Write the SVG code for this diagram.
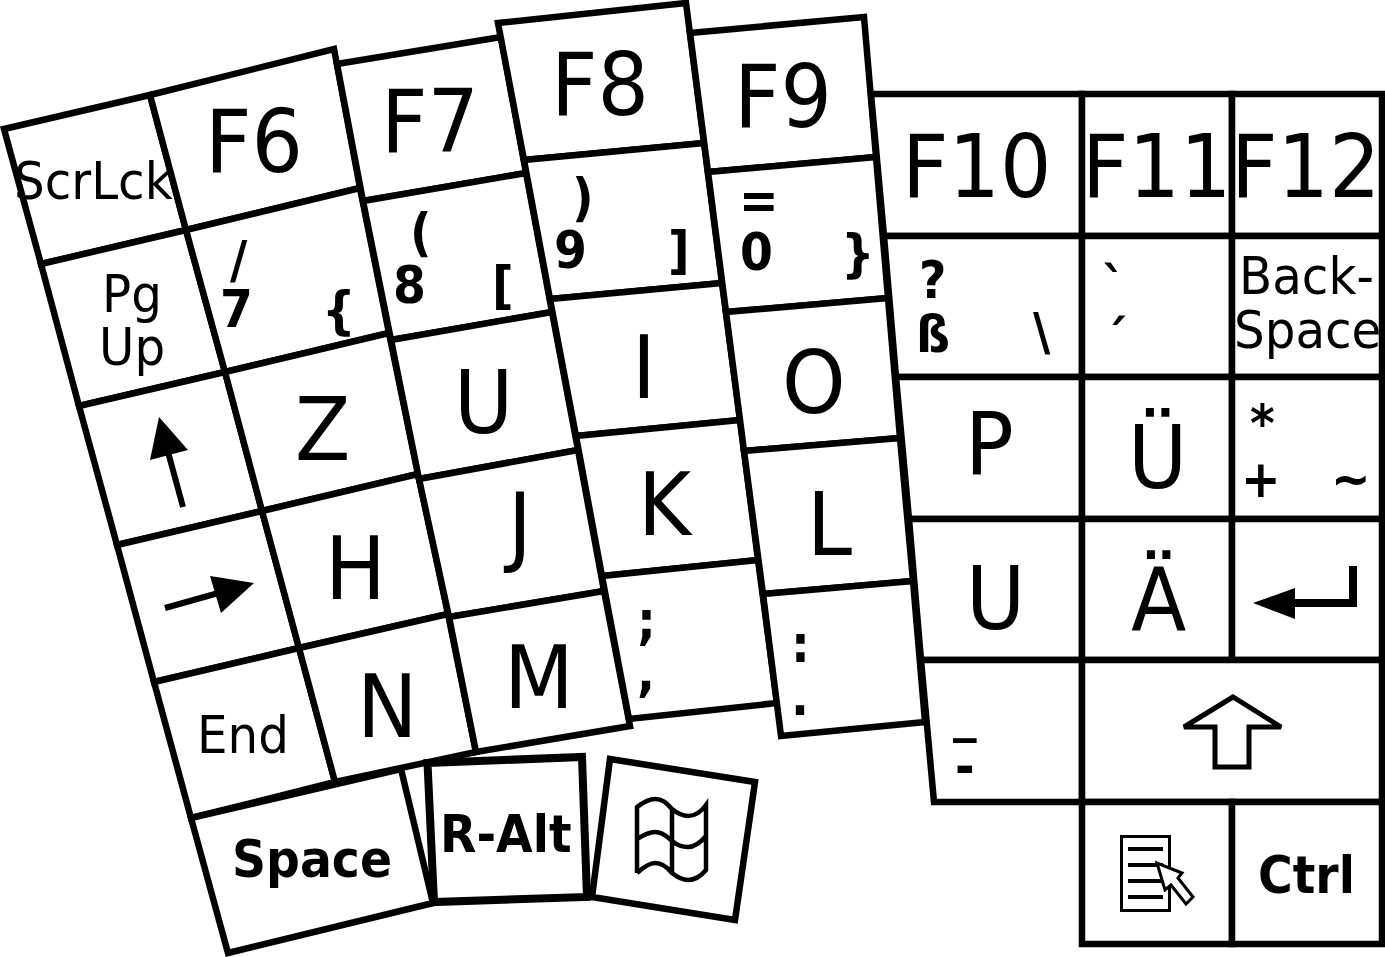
<svg xmlns="http://www.w3.org/2000/svg" width="1385" height="957" viewBox="0 0 1385 957">
<style>
.k{fill:#fff;stroke:#000;stroke-width:6.500}
text{font-family:"DejaVu Sans",sans-serif;fill:#000}
.L{font-size:87px}
.M{font-size:52px}
.B{font-size:52px;font-weight:bold}
.t{fill:none;stroke:#000}
</style>
<rect width="1385" height="957" fill="#fff"/>
<g id="col1">
<g id="key-scrlck"><polygon class="k" points="4,129 150,95 186,230 41,264"/><text class="M" transform="translate(14 199) scale(.93 1)">ScrLck</text></g>
<g id="key-pgup"><polygon class="k" points="41,264 186,230 225,372 79,406"/><text class="M" transform="translate(102 312) scale(.93 1)">Pg</text><text class="M" transform="translate(99 365) scale(.93 1)">Up</text></g>
<g id="key-up"><polygon class="k" points="79,406 225,372 262,511 117,545"/><path class="t" stroke-width="6" d="M183,507 L168,452"/><polygon points="159,417 150,460 188,450"/></g>
<g id="key-right"><polygon class="k" points="117,545 262,511 299,648 154,682"/><path class="t" stroke-width="6" d="M165,608 L222,592"/><polygon points="254,583 210,576 221,613"/></g>
<g id="key-end"><polygon class="k" points="154,682 299,648 335,782 191,818"/><text class="M" transform="translate(197 753) scale(.93 1)">End</text></g>
<g id="key-space"><polygon class="k" points="191,818 401,769 433,903 228,953"/><text class="B" transform="translate(232 877) scale(.91 1)">Space</text></g>
</g>
<g id="col2">
<g id="key-f6"><polygon class="k" points="150,95 334,49 360,188 186,230"/><text class="L" transform="translate(205 172) scale(.93 1)">F6</text></g>
<g id="key-7"><polygon class="k" points="186,230 360,188 389,333 225,372"/><text class="B" transform="translate(230 278) scale(.91 1)">/</text><text class="B" transform="translate(220 327) scale(.91 1)">7</text><text class="B" transform="translate(322 328) scale(.91 1)">{</text></g>
<g id="key-z"><polygon class="k" points="225,372 389,333 418,474 262,511"/><text class="L" transform="translate(295 460) scale(.93 1)">Z</text></g>
<g id="key-h"><polygon class="k" points="262,511 418,474 448,614 299,648"/><text class="L" transform="translate(325 599) scale(.93 1)">H</text></g>
<g id="key-n"><polygon class="k" points="299,648 448,614 476,752 335,782"/><text class="L" transform="translate(357 737) scale(.93 1)">N</text></g>
</g>
<g id="col3">
<g id="key-f7"><polygon class="k" points="337,64 501,37 526,173 363,201"/><text class="L" transform="translate(381 152) scale(.93 1)">F7</text></g>
<g id="key-8"><polygon class="k" points="363,201 526,173 552,312 391,340"/><text class="B" transform="translate(410 250) scale(.91 1)">(</text><text class="B" transform="translate(393 303) scale(.91 1)">8</text><text class="B" transform="translate(492 303) scale(.91 1)">[</text></g>
<g id="key-u"><polygon class="k" points="391,340 552,312 578,450 419,479"/><text class="L" transform="translate(454 433) scale(.93 1)">U</text></g>
<g id="key-j"><polygon class="k" points="419,479 578,450 604,591 449,617"/><text class="L" transform="translate(508 555) scale(.93 1)">J</text></g>
<g id="key-m"><polygon class="k" points="449,617 604,591 630,726 476,752"/><text class="L" transform="translate(504 708) scale(.93 1)">M</text></g>
</g>
<g id="col4">
<g id="key-f8"><polygon class="k" points="498,23 686,3 704,143 524,160"/><text class="L" transform="translate(551 115) scale(.93 1)">F8</text></g>
<g id="key-9"><polygon class="k" points="524,160 704,143 722,283 550,299"/><text class="B" transform="translate(572 215) scale(.91 1)">)</text><text class="B" transform="translate(554 268) scale(.91 1)">9</text><text class="B" transform="translate(668 268) scale(.91 1)">]</text></g>
<g id="key-i"><polygon class="k" points="550,299 722,283 740,420 576,436"/><text class="L" transform="translate(632 398) scale(.93 1)">I</text></g>
<g id="key-k"><polygon class="k" points="576,436 740,420 758,560 602,576"/><text class="L" transform="translate(638 535) scale(.93 1)">K</text></g>
<g id="key-semi"><polygon class="k" points="602,576 758,560 777,703 629,719"/><text class="B" transform="translate(637 638) scale(.91 1)">;</text><text class="B" transform="translate(637 691) scale(.91 1)">,</text></g>
</g>
<g id="col5">
<g id="key-f9"><polygon class="k" points="690,33 864,17 876,157 708,172"/><text class="L" transform="translate(734 127) scale(.93 1)">F9</text></g>
<g id="key-0"><polygon class="k" points="708,172 876,157 888,298 726,312"/><text class="B" transform="translate(739 218) scale(.91 1)">=</text><text class="B" transform="translate(740 270) scale(.91 1)">0</text><text class="B" transform="translate(841 271) scale(.91 1)">}</text></g>
<g id="key-o"><polygon class="k" points="726,312 888,298 900,438 744,451"/><text class="L" transform="translate(782 413) scale(.93 1)">O</text></g>
<g id="key-l"><polygon class="k" points="744,451 900,438 913,581 763,594"/><text class="L" transform="translate(807 555) scale(.93 1)">L</text></g>
<g id="key-colon"><polygon class="k" points="763,594 913,581 925,722 781,736"/><text class="B" transform="translate(791 662) scale(.91 1)">:</text><text class="B" transform="translate(791 715) scale(.91 1)">.</text></g>
</g>
<g id="right">
<g id="key-f10"><polygon class="k" points="871,94 1082,94 1082,236 884,236"/><text class="L" transform="translate(902 197) scale(.93 1)">F10</text></g>
<g id="key-f11"><polygon class="k" points="1082,94 1232,94 1232,236 1082,236"/><text class="L" transform="translate(1082 197) scale(.93 1)">F11</text></g>
<g id="key-f12"><polygon class="k" points="1232,94 1382,94 1382,236 1232,236"/><text class="L" transform="translate(1231 197) scale(.93 1)">F12</text></g>
<g id="key-ss"><polygon class="k" points="884,236 1082,236 1082,377 896,377"/><text class="B" transform="translate(919 298) scale(.91 1)">?</text><text class="B" transform="translate(916 352) scale(.91 1)">ß</text><text class="B" transform="translate(1033 350) scale(.91 1)">\</text></g>
<g id="key-acute"><polygon class="k" points="1082,236 1232,236 1232,377 1082,377"/><text class="B" transform="translate(1102 304) scale(.91 1)">`</text><text class="B" transform="translate(1104 357) scale(.91 1)">´</text></g>
<g id="key-back"><polygon class="k" points="1232,236 1382,236 1382,377 1232,377"/><text class="M" transform="translate(1239 294) scale(.93 1)">Back-</text><text class="M" transform="translate(1234 348) scale(.93 1)">Space</text></g>
<g id="key-p"><polygon class="k" points="896,377 1082,377 1082,519 909,519"/><text class="L" transform="translate(965 475) scale(.93 1)">P</text></g>
<g id="key-ue"><polygon class="k" points="1082,377 1232,377 1232,519 1082,519"/><text class="L" transform="translate(1128 488) scale(.93 1)">Ü</text></g>
<g id="key-plus"><polygon class="k" points="1232,377 1382,377 1382,519 1232,519"/><text class="B" transform="translate(1250 441) scale(.91 1)">*</text><text class="B" transform="translate(1241 497) scale(.91 1)">+</text><text class="B" transform="translate(1331 497) scale(.91 1)">~</text></g>
<g id="key-u2"><polygon class="k" points="909,519 1082,519 1082,660 921,660"/><text class="L" transform="translate(966 629) scale(.93 1)">U</text></g>
<g id="key-ae"><polygon class="k" points="1082,519 1232,519 1232,660 1082,660"/><text class="L" transform="translate(1131 630) scale(.93 1)">Ä</text></g>
<g id="key-enter"><polygon class="k" points="1232,519 1382,519 1382,660 1232,660"/><path class="t" stroke-width="8" d="M1293,603 H1353 V566"/><polygon points="1253,603 1295,588 1295,619"/></g>
<g id="key-minus"><polygon class="k" points="921,660 1082,660 1082,802 934,802"/><text class="B" transform="translate(953 731) scale(.91 1)">_</text><text class="B" transform="translate(955 784) scale(.91 1)">-</text></g>
<g id="key-shift"><polygon class="k" points="1082,660 1382,660 1382,802 1082,802"/><path class="t" stroke-width="5" stroke-miterlimit="2" d="M1233,697 L1184,727 H1215 V767 H1249 V727 H1281 Z"/></g>
<g id="key-menu"><polygon class="k" points="1082,802 1232,802 1232,944 1082,944"/><rect x="1121.500" y="836.500" width="48" height="74" class="t" stroke-width="3"/><path class="t" stroke-width="4" d="M1128,849 H1163 M1128,865 H1163 M1128,881 H1163 M1128,897 H1163"/><polygon points="1157,863 1165,890 1171,885 1186,904 1193,897 1178,878 1182,873" fill="#fff" stroke="#000" stroke-width="3"/></g>
<g id="key-ctrl"><polygon class="k" points="1232,802 1382,802 1382,944 1232,944"/><text class="B" transform="translate(1258 893) scale(.91 1)">Ctrl</text></g>
</g>
<g id="key-win"><polygon class="k" points="610,759 755,782 735,920 592,897"/><path class="t" stroke-width="4.500" d="M637,873 V807 C645,801 650,799 655,799 C664,799 668,805 672,809 C677,813 682,816 688,816 C695,816 701,812 706,805 V870 C701,876 695,880 688,880 C682,880 677,877 672,873 C668,868 662,863 655,863 C650,863 645,866 637,873 M637,839 C645,834 650,832 655,832 C664,832 668,838 672,841 C677,845 682,847 688,847 C695,847 701,842 706,836 M672,809 V873"/></g>
<g id="key-ralt"><polygon class="k" points="427.500,763 582,757 587,897 434,902" style="stroke-width:8"/><text class="B" transform="translate(440 852) scale(.91 1)">R-Alt</text></g>
</svg>
